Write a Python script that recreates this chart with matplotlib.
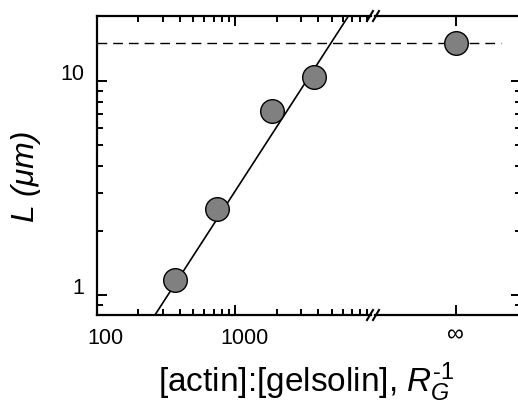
import matplotlib
matplotlib.use("Agg")
import matplotlib.pyplot as plt
import matplotlib.transforms as mtransforms
import numpy as np
from matplotlib.lines import Line2D
from matplotlib.ticker import FixedLocator, LogLocator, NullFormatter

plt.rcParams["font.family"] = ["Liberation Sans", "DejaVu Sans"]
plt.rcParams["mathtext.fontset"] = "custom"
plt.rcParams["mathtext.rm"] = "Liberation Sans"
plt.rcParams["mathtext.it"] = "Liberation Sans:italic"

# dados
razao = [369, 738, 1858, 3715]
comprimento = [1.18, 2.51, 7.26, 10.4]
comprimento_inf = 15.0
fit_A = 0.00305
fit_b = 1.0
x_ticks = [100, 1000]
y_ticks = [1, 10]

XLIM_LOG = (100, 9590)
YLIM = (0.806, 20.1)
INF_POS = 0.552
DASH_FIM = 0.862

W, H = 518, 403
fig = plt.figure(figsize=(W / 100, H / 100), dpi=100)

ax = fig.add_axes([96.5 / W, 1 - 315 / H, (371 - 96.5) / W, (315 - 16) / H])
ax2 = fig.add_axes([375 / W, 1 - 315 / H, 146 / W, (315 - 16) / H], sharey=ax)

for a in (ax, ax2):
    for s in a.spines.values():
        s.set_linewidth(1.6)
    a.set_facecolor("none")
ax.spines["right"].set_visible(False)
ax2.spines["left"].set_visible(False)

# ---- painel esquerdo (log-log)
ax.set_xscale("log")
ax.set_yscale("log")
ax.set_xlim(*XLIM_LOG)
ax.set_ylim(*YLIM)

xf = np.array(XLIM_LOG, dtype=float)
ax.plot(xf, fit_A * xf**fit_b, color="black", linewidth=1.2, zorder=2)
ax.axhline(comprimento_inf, color="black", linewidth=1.0, dashes=(7, 4.3), zorder=1)
ax.plot(razao, comprimento, "o", markersize=17, markerfacecolor="#808080",
        markeredgecolor="black", markeredgewidth=1.0, zorder=3)

ax.xaxis.set_major_locator(FixedLocator(x_ticks))
ax.xaxis.set_minor_locator(LogLocator(base=10, subs=np.arange(2, 10)))
ax.xaxis.set_minor_formatter(NullFormatter())
ax.set_xticklabels([str(v) for v in x_ticks])
ax.yaxis.set_major_locator(FixedLocator(y_ticks))
ax.yaxis.set_minor_locator(LogLocator(base=10, subs=np.arange(2, 10)))
ax.yaxis.set_minor_formatter(NullFormatter())
ax.set_yticklabels([str(v) for v in y_ticks])

ax.tick_params(which="both", direction="in", top=True, bottom=True, left=True,
               right=False, width=1.4, labelsize=15.5, pad=9.0)
ax.tick_params(which="major", length=7)
ax.tick_params(which="minor", length=4)

# deslocamento dos rótulos como na figura original
dx = mtransforms.ScaledTranslation(0.09, 0, fig.dpi_scale_trans)
dy = mtransforms.ScaledTranslation(0, 0.09, fig.dpi_scale_trans)
for lab in ax.get_xticklabels():
    lab.set_transform(lab.get_transform() + dx)
for lab in ax.get_yticklabels():
    lab.set_transform(lab.get_transform() + dy)

# ---- painel direito (infinito)
ax2.set_xlim(0, 1)
ax2.plot([0, DASH_FIM], [comprimento_inf, comprimento_inf], color="black",
         linewidth=1.0, dashes=(7, 4.3), zorder=1)
ax2.plot([INF_POS], [comprimento_inf], "o", markersize=17, markerfacecolor="#808080",
         markeredgecolor="black", markeredgewidth=1.0, zorder=3)
ax2.set_xticks([INF_POS])
ax2.set_xticklabels(["∞"])
ax2.tick_params(which="both", direction="in", top=True, bottom=True, left=False,
                right=True, labelleft=False, width=1.4, labelsize=17, pad=7.0)
ax2.tick_params(which="major", length=7)
ax2.tick_params(which="minor", length=4)

# ---- marcas de quebra do eixo
for xp in (370, 376):
    for yp in (315, 16):
        fig.add_artist(Line2D([(xp - 3) / W, (xp + 3) / W],
                              [1 - (yp + 5) / H, 1 - (yp - 5) / H],
                              color="black", linewidth=1.5))

fig.text(306 / W, 1 - 382 / H, r"[actin]:[gelsolin], $R_G^{\text{-1}}$",
         ha="center", va="center", fontsize=24)
fig.text(26 / W, 1 - 176 / H, "L (μm)", rotation=90, ha="center", va="center",
         fontsize=23, fontstyle="italic")

fig.savefig("out.png", dpi=100)
